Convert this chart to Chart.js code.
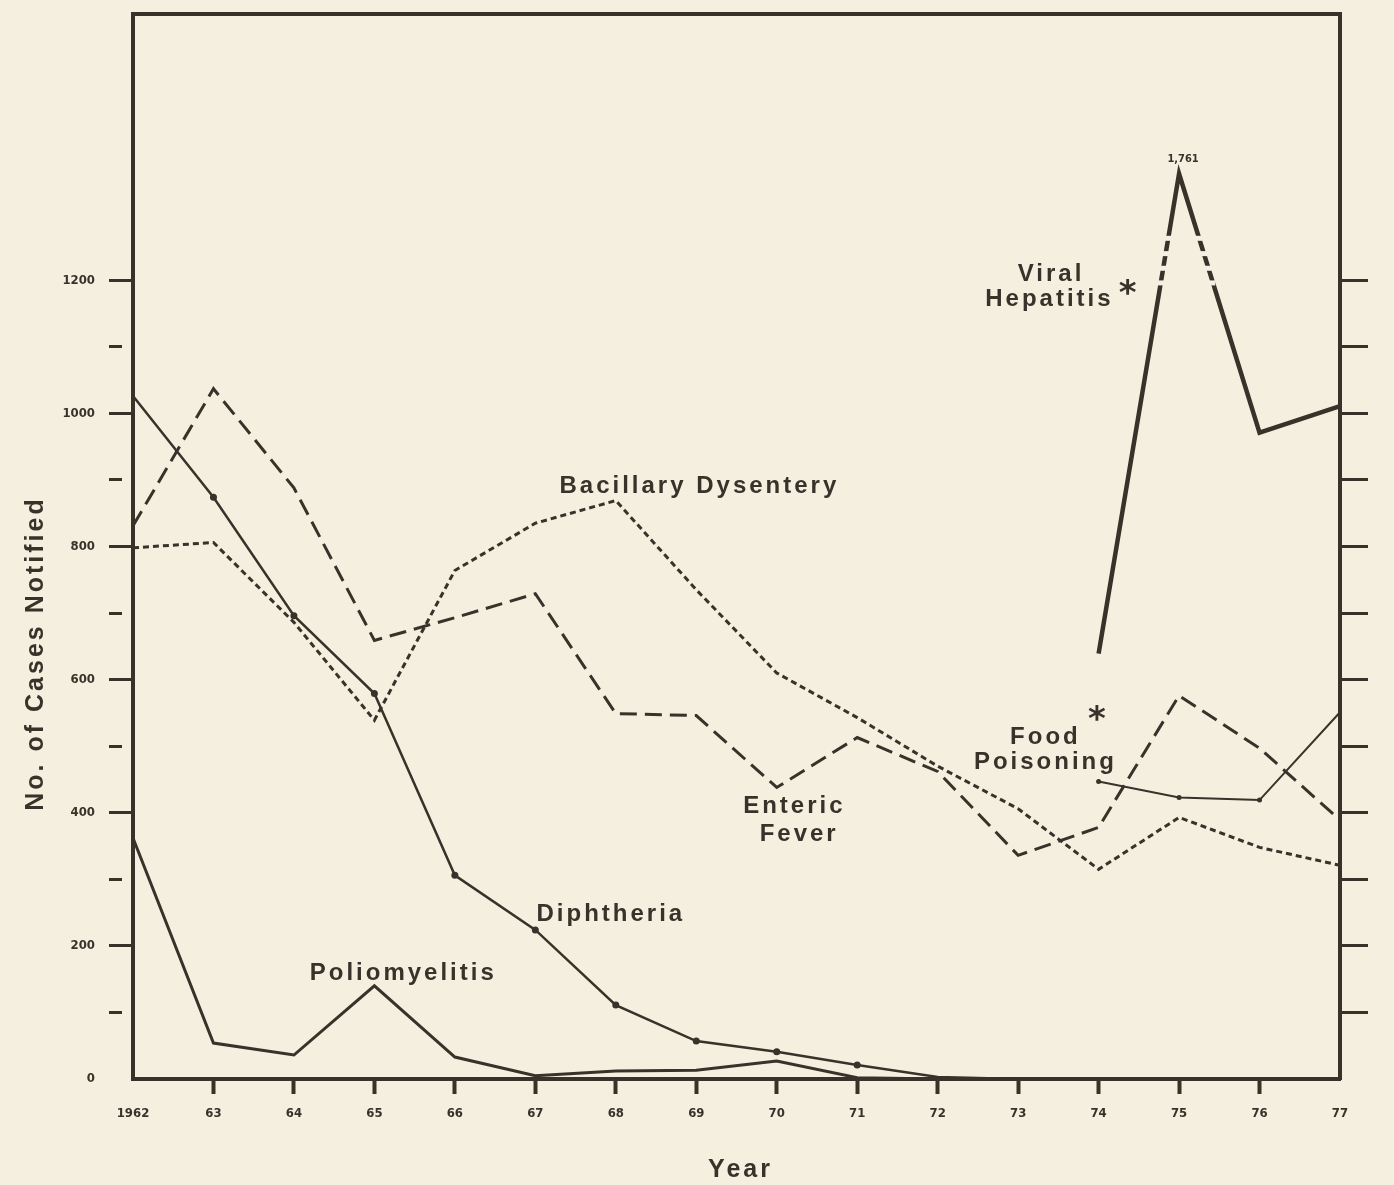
<!DOCTYPE html>
<html>
<head>
<meta charset="utf-8">
<script src="https://cdn.jsdelivr.net/npm/chart.js@4.4.0/dist/chart.umd.min.js"></script>
<style>
  html, body { margin: 0; padding: 0; background: #f4efdf; }
  canvas { display: block; }
</style>
</head>
<body>
<canvas id="chart" width="1394" height="1185"></canvas>
<script>
// notified cases per year
const years = ['1962', '63', '64', '65', '66', '67', '68', '69', '70', '71', '72', '73', '74', '75', '76', '77'];
const diphtheria = [1026, 874, 696, 579, 306, 224, 111, 57, 41, 21, 3, 0, 0, 0, 0, 0];
const poliomyelitis = [362, 54, 36, 140, 33, 5, 12, 13, 27, 2, 0, 0, 0, 0, 0, 0];
const entericFever = [831, 1037, 888, 659, 693, 729, 549, 546, 438, 513, 462, 336, 378, 576, 497, 389];
const bacillaryDysentery = [798, 806, 686, 539, 764, 835, 869, 735, 610, 543, 470, 406, 315, 393, 348, 321];
// 1975 peak is 1,761 but the printed axis is broken, so it sits at ~1360 on the scale
const viralHepatitis = [null, null, null, null, null, null, null, null, null, null, null, null, 639, 1360, 971, 1011];
const foodPoisoning = [null, null, null, null, null, null, null, null, null, null, null, null, 447, 423, 419, 551];
const peakLabel = '1,761';
const hepBreak = [1196, 1218, 1240, 1263]; // gaps that mark the broken axis

const ink = '#3a312b';
const paper = '#f4efdf';
const tickFont = { family: "'Liberation Sans Narrow', 'DejaVu Sans Condensed', 'Liberation Sans', sans-serif", weight: 'bold', size: 13 };

// text placed in data units: [x index, y value] of the baseline centre
const notes = [
  { text: 'Bacillary Dysentery', at: [7.02, 881] },
  { text: 'Viral', at: [11.39, 1199] },
  { text: 'Hepatitis', at: [11.37, 1162] },
  { text: 'Food', at: [11.32, 504] },
  { text: 'Poisoning', at: [11.32, 466] },
  { text: 'Enteric', at: [8.20, 399] },
  { text: 'Fever', at: [8.26, 357] },
  { text: 'Diphtheria', at: [5.92, 237] },
  { text: 'Poliomyelitis', at: [3.34, 149] }
];
const stars = [[12.36, 1187], [11.98, 546]];

const notesPlugin = {
  id: 'notes',
  afterDatasetsDraw(chart) {
    const { ctx, scales: { x, y }, chartArea } = chart;
    ctx.save();
    // broken-axis gaps on the hepatitis spike
    ctx.fillStyle = paper;
    hepBreak.forEach(v => {
      const py = y.getPixelForValue(v);
      ctx.fillRect(x.getPixelForValue(12.55), py - 2.5, x.getPixelForValue(13.45) - x.getPixelForValue(12.55), 5);
    });
    ctx.fillStyle = ink;
    ctx.textAlign = 'center';
    ctx.textBaseline = 'alphabetic';
    ctx.letterSpacing = '3px';
    ctx.font = 'bold 24px "Liberation Sans", Arial, sans-serif';
    notes.forEach(n => ctx.fillText(n.text, x.getPixelForValue(n.at[0]) + 1.5, y.getPixelForValue(n.at[1])));
    ctx.letterSpacing = '0px';
    ctx.font = 'bold 34px "DejaVu Sans", sans-serif';
    ctx.textBaseline = 'middle';
    stars.forEach(s => ctx.fillText('*', x.getPixelForValue(s[0]), y.getPixelForValue(s[1]) + 6));
    ctx.font = "bold 11px 'Liberation Sans Narrow', 'DejaVu Sans Condensed', sans-serif";
    ctx.textBaseline = 'alphabetic';
    ctx.fillText(peakLabel, x.getPixelForValue(13.05), y.getPixelForValue(1378));

    // axis titles
    ctx.letterSpacing = '3px';
    ctx.font = 'bold 25px "Liberation Sans", Arial, sans-serif';
    ctx.fillText('Year', (chartArea.left + chartArea.right) / 2 + 4, 1177);
    ctx.translate(43, (chartArea.top + chartArea.bottom) / 2 + 107);
    ctx.rotate(-Math.PI / 2);
    ctx.fillText('No. of Cases Notified', 0, 0);
    ctx.restore();
  }
};

const line = (label, data, extra) => Object.assign({
  label, data, borderColor: ink, backgroundColor: ink, borderWidth: 3,
  pointRadius: 0, pointBorderWidth: 0, tension: 0, fill: false
}, extra);

// keep the frame where the printed one is: no extra label padding
const noPad = s => { s.paddingTop = 0; s.paddingBottom = 0; s.paddingLeft = 0; s.paddingRight = 0; };

new Chart(document.getElementById('chart'), {
  type: 'line',
  data: {
    labels: years,
    datasets: [
      line('Diphtheria', diphtheria, {
        borderWidth: 2.5,
        pointRadius: c => (c.dataIndex >= 1 && c.dataIndex <= 9) ? 3.5 : 0
      }),
      line('Poliomyelitis', poliomyelitis, { borderWidth: 3 }),
      line('Enteric Fever', entericFever, { borderDash: [17, 8] }),
      line('Bacillary Dysentery', bacillaryDysentery, { borderDash: [6, 4] }),
      line('Viral Hepatitis', viralHepatitis, { borderWidth: 4.5 }),
      line('Food Poisoning', foodPoisoning, { borderWidth: 2, pointRadius: c => c.dataIndex < 15 ? 2.5 : 0 })
    ]
  },
  options: {
    responsive: false,
    animation: false,
    layout: { padding: { left: 53, right: 26, top: 14, bottom: 66 } },
    plugins: { legend: { display: false }, tooltip: { enabled: false } },
    scales: {
      x: {
        offset: false,
        grid: {
          drawOnChartArea: false, tickLength: 15, tickWidth: 4,
          tickColor: c => (c.index === 0 || c.index === years.length - 1) ? 'rgba(0,0,0,0)' : ink
        },
        border: { color: ink, width: 4 },
        ticks: { color: ink, font: tickFont, padding: 12, autoSkip: false, maxRotation: 0 },
        afterFit: s => { s.height = 40; noPad(s); }
      },
      xTop: {
        type: 'category', position: 'top', offset: false,
        grid: { drawOnChartArea: false, drawTicks: false },
        border: { color: ink, width: 4 },
        ticks: { display: false },
        afterFit: s => { s.height = 0; noPad(s); }
      },
      y: {
        min: 0, max: 1600,
        afterBuildTicks: s => { s.ticks = s.ticks.filter(t => t.value <= 1200); },
        grid: {
          drawOnChartArea: false, tickLength: 24, tickWidth: 3,
          tickColor: c => c.tick && c.tick.value === 0 ? 'rgba(0,0,0,0)' : ink,
          tickBorderDash: c => c.tick && c.tick.value % 200 ? [13, 40] : []
        },
        border: { color: ink, width: 4 },
        ticks: { stepSize: 100, color: ink, font: tickFont, padding: 14, callback: v => v % 200 === 0 ? v : '' },
        afterFit: s => { s.width = 80; noPad(s); }
      },
      y2: {
        position: 'right', min: 0, max: 1600,
        afterBuildTicks: s => { s.ticks = s.ticks.filter(t => t.value >= 100 && t.value <= 1200); },
        grid: { drawOnChartArea: false, tickLength: 28, tickWidth: 3, tickColor: ink },
        border: { color: ink, width: 4 },
        ticks: { display: false, stepSize: 100 },
        afterFit: s => { s.width = 28; noPad(s); }
      }
    }
  },
  plugins: [notesPlugin]
});
</script>
</body>
</html>
